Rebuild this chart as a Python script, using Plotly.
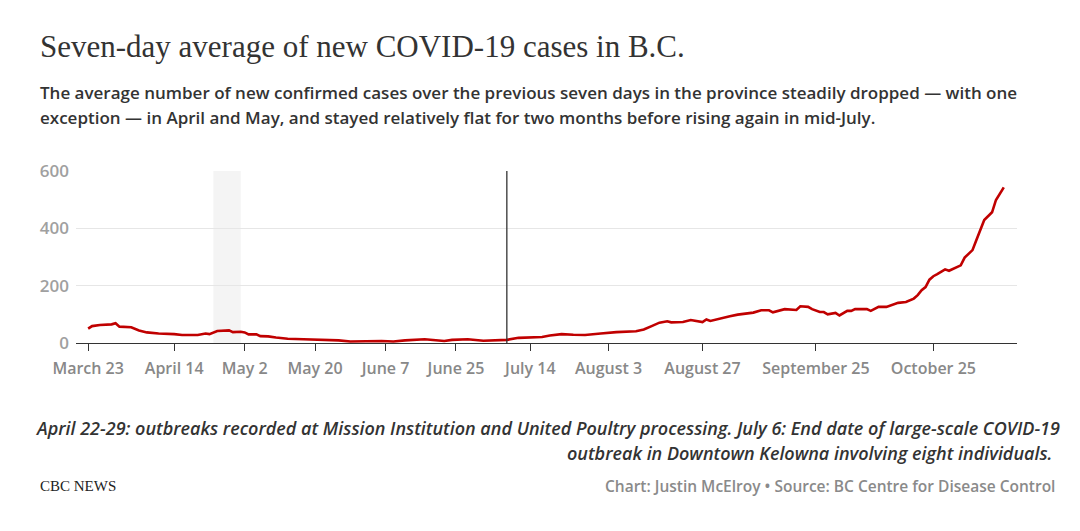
import plotly.graph_objects as go

# ---- data ----
dates = [
    "2020-03-23", "2020-03-24", "2020-03-26", "2020-03-28", "2020-03-29", "2020-03-30", "2020-03-31",
    "2020-04-03", "2020-04-04", "2020-04-05", "2020-04-07", "2020-04-10", "2020-04-14", "2020-04-16",
    "2020-04-20", "2020-04-22", "2020-04-23", "2020-04-25", "2020-04-28", "2020-04-29", "2020-05-01",
    "2020-05-02", "2020-05-03", "2020-05-05", "2020-05-06", "2020-05-08", "2020-05-10", "2020-05-13",
    "2020-05-17", "2020-05-22", "2020-05-26", "2020-05-29", "2020-06-03", "2020-06-06", "2020-06-09",
    "2020-06-12", "2020-06-17", "2020-06-22", "2020-06-24", "2020-06-28", "2020-07-02", "2020-07-05",
    "2020-07-08", "2020-07-11", "2020-07-14", "2020-07-17", "2020-07-19", "2020-07-22", "2020-07-25",
    "2020-07-28", "2020-08-01", "2020-08-05", "2020-08-10", "2020-08-12", "2020-08-14", "2020-08-16",
    "2020-08-18", "2020-08-19", "2020-08-22", "2020-08-24", "2020-08-27", "2020-08-28", "2020-08-29",
    "2020-09-01", "2020-09-03", "2020-09-05", "2020-09-08", "2020-09-09", "2020-09-11", "2020-09-13",
    "2020-09-14", "2020-09-17", "2020-09-20", "2020-09-21", "2020-09-23", "2020-09-24", "2020-09-26",
    "2020-09-27", "2020-09-28", "2020-09-30", "2020-10-01", "2020-10-03", "2020-10-04", "2020-10-05",
    "2020-10-08", "2020-10-09", "2020-10-11", "2020-10-13", "2020-10-16", "2020-10-18", "2020-10-20",
    "2020-10-21", "2020-10-22", "2020-10-23", "2020-10-24", "2020-10-25", "2020-10-26", "2020-10-28",
    "2020-10-29", "2020-10-31", "2020-11-01", "2020-11-02", "2020-11-03", "2020-11-04", "2020-11-05",
    "2020-11-06", "2020-11-07", "2020-11-09", "2020-11-10", "2020-11-12",
]
avg_cases = [
    50, 59, 63, 64, 65, 69, 57,
    55, 50, 44, 37, 33, 31, 28,
    28, 33, 31, 42, 44, 38, 39,
    37, 30, 30, 24, 23, 19, 15,
    13, 12, 9, 5, 7, 7, 5,
    9, 13, 7, 11, 13, 8, 9,
    11, 18, 20, 21, 26, 31, 29,
    28, 33, 38, 41, 47, 59, 71,
    76, 72, 73, 80, 73, 82, 77,
    85, 93, 99, 103, 106, 114, 114,
    107, 118, 115, 128, 126, 118, 108,
    108, 100, 105, 96, 112, 112, 118,
    118, 112, 126, 126, 140, 143, 155,
    167, 184, 195, 221, 233, 240, 257,
    252, 263, 271, 298, 312, 324, 359,
    394, 429, 456, 499, 543,
]

tick_dates = ["2020-03-23", "2020-04-14", "2020-05-02", "2020-05-20", "2020-06-07", "2020-06-25",
              "2020-07-14", "2020-08-03", "2020-08-27", "2020-09-25", "2020-10-25"]
tick_labels = ["March 23", "April 14", "May 2", "May 20", "June 7", "June 25",
               "July 14", "August 3", "August 27", "September 25", "October 25"]
y_ticks = [0, 200, 400, 600]

shade_start, shade_end = "2020-04-24", "2020-05-01"
event_line = "2020-07-08"

title = "Seven-day average of new COVID-19 cases in B.C."
subtitle_1 = "The average number of new confirmed cases over the previous seven days in the province steadily dropped — with one"
subtitle_2 = "exception — in April and May, and stayed relatively flat for two months before rising again in mid-July."
note_1 = "April 22-29: outbreaks recorded at Mission Institution and United Poultry processing. July 6: End date of large-scale COVID-19"
note_2 = "outbreak in Downtown Kelowna involving eight individuals."
brand = "CBC NEWS"
source = "Chart: Justin McElroy • Source: BC Centre for Disease Control"

# ---- layout geometry ----
W, H = 1080, 531
L, R, T, B = 76, 1017, 171, 342.7


def px(x):
    return (x - L) / (R - L)


def py(y):
    return (B - y) / (B - T)


fig = go.Figure()
fig.add_trace(go.Scatter(
    x=dates, y=avg_cases, mode="lines",
    line=dict(color="#c00000", width=2.6),
    hoverinfo="skip", showlegend=False,
))

fig.add_shape(type="rect", xref="x", yref="paper", x0=shade_start, x1=shade_end, y0=0, y1=1,
              fillcolor="#f4f4f4", line=dict(width=0), layer="below")
fig.add_shape(type="line", xref="x", yref="paper", x0=event_line, x1=event_line, y0=0, y1=1,
              line=dict(color="#333333", width=1.3))

sans = "Open Sans"
annots = [
    dict(text=title, x=px(38), y=py(47), xanchor="left", yanchor="middle",
         font=dict(family="Liberation Serif", size=31, color="#333333")),
    dict(text=subtitle_1, x=px(38), y=py(93), xanchor="left", yanchor="middle",
         font=dict(family=sans, size=17, color="#333333", weight=600)),
    dict(text=subtitle_2, x=px(38), y=py(118), xanchor="left", yanchor="middle",
         font=dict(family=sans, size=17, color="#333333", weight=600)),
    dict(text=note_1, x=px(1062), y=py(428), xanchor="right", yanchor="middle",
         font=dict(family=sans, size=18, color="#333333", weight=600, style="italic")),
    dict(text=note_2, x=px(1054), y=py(453), xanchor="right", yanchor="middle",
         font=dict(family=sans, size=18, color="#333333", weight=600, style="italic")),
    dict(text=brand, x=px(38), y=py(485), xanchor="left", yanchor="middle",
         font=dict(family="Liberation Serif", size=15, color="#222222")),
    dict(text=source, x=px(1057), y=py(485), xanchor="right", yanchor="middle",
         font=dict(family=sans, size=15.5, color="#8a8a8a", weight=600)),
]
for a in annots:
    a.update(xref="paper", yref="paper", showarrow=False)

fig.update_layout(
    width=W, height=H,
    margin=dict(l=L, r=W - R, t=T, b=H - B, pad=0),
    paper_bgcolor="white", plot_bgcolor="white",
    annotations=annots,
    showlegend=False,
)
fig.update_xaxes(
    range=["2020-03-19 21:30", "2020-11-15 09:00"],
    tickmode="array", tickvals=tick_dates, ticktext=tick_labels,
    ticks="outside", ticklen=7, tickwidth=1, tickcolor="#333333",
    showline=True, linecolor="#333333", linewidth=1.3,
    showgrid=False, zeroline=False,
    tickfont=dict(family=sans, size=16, color="#888888", weight=600),
    ticklabelstandoff=4,
)
fig.update_yaxes(
    range=[0, 600], tickmode="array", tickvals=y_ticks,
    showgrid=True, gridcolor="#e6e6e6", gridwidth=1.3,
    zeroline=False, showline=False, ticks="",
    tickfont=dict(family=sans, size=17, color="#a0a0a0", weight=600),
    ticklabelstandoff=6,
)

fig.write_html("out.html")
